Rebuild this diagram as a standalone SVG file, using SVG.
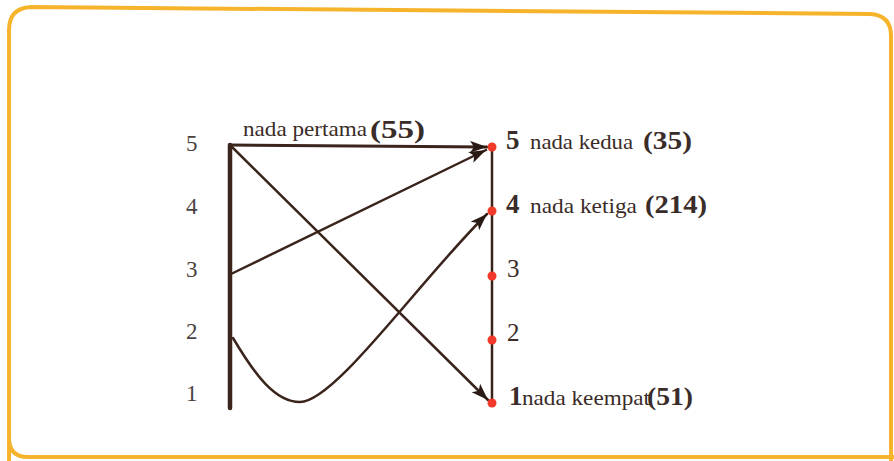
<svg xmlns="http://www.w3.org/2000/svg" width="894" height="461" viewBox="0 0 894 461">
<defs>
<style>
.ln{stroke:#3a241c;fill:none;stroke-linecap:round}
.dot{fill:#f23a2a}
</style>
<marker id="ah" markerUnits="userSpaceOnUse" markerWidth="20" markerHeight="14" refX="17" refY="6" orient="auto">
<path d="M0,0 L17,6 L0,12 L4,6 z" fill="#2a1a14"/>
</marker>
</defs>
<rect width="894" height="461" fill="#ffffff"/>
<path id="frame" d="M9,461 L9,30 Q9,8 31,7 L870,14 Q891,15 891,36 L891,461 M9,438 Q9,457 28,457 L894,457" fill="none" stroke="#f6b42c" stroke-width="4"/>
<g id="left-scale" font-family="Liberation Serif, serif" font-size="23" fill="#4a4242">
<text x="186" y="151">5</text>
<text x="186" y="214">4</text>
<text x="186" y="277">3</text>
<text x="186" y="339">2</text>
<text x="186" y="401">1</text>
</g>
<g id="axes">
<line class="ln" x1="230" y1="145" x2="230" y2="408" stroke-width="4.5"/>
<line class="ln" x1="492" y1="147" x2="492" y2="403" stroke-width="2.5"/>
</g>
<g id="connectors">
<line class="ln" x1="230" y1="145" x2="487" y2="147" stroke-width="3" marker-end="url(#ah)"/>
<line class="ln" x1="230" y1="145" x2="488" y2="400" stroke-width="2.5" marker-end="url(#ah)"/>
<line class="ln" x1="231" y1="274" x2="486" y2="150" stroke-width="2.5" marker-end="url(#ah)"/>
<path class="ln" d="M233,338 C255,375 275,402 300,402 C335,402 420,280 487,214" stroke-width="2.5" marker-end="url(#ah)"/>
</g>
<g id="node-5" font-family="Liberation Serif, serif" fill="#3a2c28">
<circle class="dot" cx="492" cy="147" r="4.5"/>
<text x="506" y="149" font-size="27" font-weight="bold">5</text>
<text x="530" y="149" font-size="22" textLength="103" lengthAdjust="spacingAndGlyphs">nada kedua</text>
<text x="643" y="149" font-size="26" font-weight="bold" textLength="49" lengthAdjust="spacingAndGlyphs">(35)</text>
</g>
<g id="node-4" font-family="Liberation Serif, serif" fill="#3a2c28">
<circle class="dot" cx="492" cy="211" r="4.5"/>
<text x="506" y="213" font-size="27" font-weight="bold">4</text>
<text x="530" y="213" font-size="22" textLength="107" lengthAdjust="spacingAndGlyphs">nada ketiga</text>
<text x="645" y="213" font-size="26" font-weight="bold" textLength="62" lengthAdjust="spacingAndGlyphs">(214)</text>
</g>
<g id="node-3" font-family="Liberation Serif, serif" fill="#3a2c28">
<circle class="dot" cx="492" cy="276" r="4.5"/>
<text x="507" y="277" font-size="25">3</text>
</g>
<g id="node-2" font-family="Liberation Serif, serif" fill="#3a2c28">
<circle class="dot" cx="492" cy="340" r="4.5"/>
<text x="507" y="341" font-size="25">2</text>
</g>
<g id="node-1" font-family="Liberation Serif, serif" fill="#3a2c28">
<circle class="dot" cx="492" cy="403" r="4.5"/>
<text x="509" y="405" font-size="27" font-weight="bold">1</text>
<text x="522" y="405" font-size="22" textLength="128" lengthAdjust="spacingAndGlyphs">nada keempat</text>
<text x="647" y="405" font-size="26" font-weight="bold" textLength="46" lengthAdjust="spacingAndGlyphs">(51)</text>
</g>
<g id="top-label" font-family="Liberation Serif, serif" fill="#3a2c28">
<text x="243" y="136" font-size="22" textLength="124" lengthAdjust="spacingAndGlyphs">nada pertama</text>
<text x="370" y="138" font-size="26" font-weight="bold" textLength="55" lengthAdjust="spacingAndGlyphs">(55)</text>
</g>
</svg>
